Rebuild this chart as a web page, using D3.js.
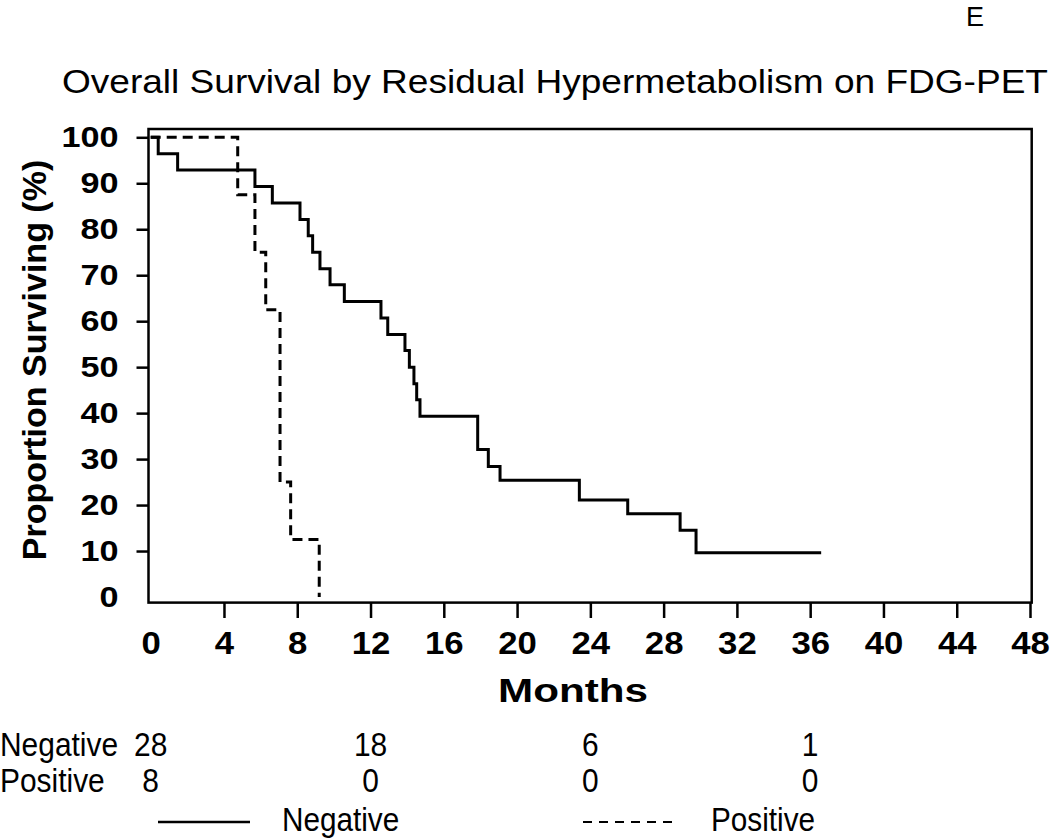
<!DOCTYPE html>
<html lang="en">
<head>
<meta charset="utf-8">
<script src="https://d3js.org/d3.v7.min.js"></script>
<style>
  body { margin: 0; background: #fff; }
  svg { display: block; font-family: "Liberation Sans", Arial, Helvetica, sans-serif; }
  .axis path { display: none; }
  .axis line { stroke: #000; stroke-width: 2.5; }
  .axis text { fill: #000; font-weight: bold; }
</style>
</head>
<body>
<svg id="chart" width="1050" height="839"></svg>
<script>
// survival steps (months, % surviving)
var negTimes = [0, 0.41, 1.47, 5.69, 6.64, 8.15, 8.6, 8.84, 9.24, 9.79, 10.57, 12.57, 12.94, 13.88, 14.12, 14.37, 14.52, 14.7, 17.85, 18.43, 19.07, 23.4, 26.04, 28.9, 29.77, 36.6];
var negSurv  = [100, 96.4, 92.9, 89.3, 85.7, 82.1, 78.6, 75.0, 71.4, 67.9, 64.3, 60.7, 57.1, 53.6, 50.0, 46.4, 42.9, 39.3, 32.1, 28.4, 25.4, 21.1, 18.1, 14.5, 9.6, 9.6];
var posTimes = [0, 4.75, 5.69, 6.28, 7.06, 7.64, 9.2];
var posSurv  = [100, 87.5, 75, 62.5, 25, 12.5, 0];

// numbers at risk
var groups = ['Negative', 'Positive'];
var riskTimes = [0, 12, 24, 36];
var negRisk = [28, 18, 6, 1];
var posRisk = [8, 0, 0, 0];

var xTicks = [0, 4, 8, 12, 16, 20, 24, 28, 32, 36, 40, 44, 48];
var yTicks = [0, 10, 20, 30, 40, 50, 60, 70, 80, 90, 100];

var svg = d3.select('#chart');

var x = d3.scaleLinear().domain([0, 48]).range([150.7, 1030]);
var y = d3.scaleLinear().domain([0, 100]).range([597, 137.3]);

// widen or squeeze text horizontally (the original type is not plain Helvetica)
function stretch(sel, k) {
  sel.each(function() {
    var w = this.getComputedTextLength();
    d3.select(this).attr('textLength', w * k).attr('lengthAdjust', 'spacingAndGlyphs');
  });
}

// frame
svg.append('rect')
  .attr('x', 148.5).attr('y', 129)
  .attr('width', 1031.7 - 148.5).attr('height', 602.6 - 129)
  .attr('fill', 'none').attr('stroke', '#000').attr('stroke-width', 2.5);

// x axis
var gx = svg.append('g')
  .attr('class', 'axis')
  .attr('transform', 'translate(0,603)')
  .style('font-size', '31px')
  .call(d3.axisBottom(x).tickValues(xTicks).tickSize(15).tickPadding(14));
gx.selectAll('.tick').filter(function(d) { return d === 0; }).select('line').remove();
stretch(gx.selectAll('text'), 1.12);

// y axis
var gy = svg.append('g')
  .attr('class', 'axis')
  .attr('transform', 'translate(148.5,0)')
  .style('font-size', '30px')
  .call(d3.axisLeft(y).tickValues(yTicks).tickSize(12).tickPadding(18));
gy.selectAll('.tick').filter(function(d) { return d === 0; }).select('line').remove();
stretch(gy.selectAll('text'), 1.14);

// curves
var line = d3.line()
  .x(function(d) { return x(d[0]); })
  .y(function(d) { return y(d[1]); })
  .curve(d3.curveStepAfter);

svg.append('path')
  .datum(d3.zip(negTimes, negSurv))
  .attr('d', line)
  .attr('fill', 'none').attr('stroke', '#000').attr('stroke-width', 3);

svg.append('path')
  .datum(d3.zip(posTimes, posSurv))
  .attr('d', line)
  .attr('fill', 'none').attr('stroke', '#000').attr('stroke-width', 3)
  .attr('stroke-dasharray', '10,6');

// titles
svg.append('text')
  .attr('x', 975).attr('y', 26)
  .attr('text-anchor', 'middle')
  .style('font-size', '27px')
  .text('E');

svg.append('text')
  .attr('x', 555).attr('y', 93)
  .attr('text-anchor', 'middle')
  .style('font-size', '34px')
  .attr('textLength', 986).attr('lengthAdjust', 'spacingAndGlyphs')
  .text('Overall Survival by Residual Hypermetabolism on FDG-PET');

svg.append('text')
  .attr('x', 573).attr('y', 702)
  .attr('text-anchor', 'middle')
  .style('font-size', '34px').style('font-weight', 'bold')
  .attr('textLength', 150).attr('lengthAdjust', 'spacingAndGlyphs')
  .text('Months');

svg.append('text')
  .attr('transform', 'translate(46,360) rotate(-90)')
  .attr('text-anchor', 'middle')
  .style('font-size', '34px').style('font-weight', 'bold')
  .text('Proportion Surviving (%)');

// numbers at risk table
var rowY = [756, 792];
var riskRows = [negRisk, posRisk];
groups.forEach(function(g, i) {
  var lab = svg.append('text')
    .attr('x', 0).attr('y', rowY[i])
    .style('font-size', '34px')
    .text(g);
  stretch(lab, 0.88);
  var nums = svg.selectAll(null)
    .data(d3.zip(riskTimes, riskRows[i]))
    .enter().append('text')
    .attr('x', function(d) { return x(d[0]); })
    .attr('y', rowY[i])
    .attr('text-anchor', 'middle')
    .style('font-size', '34px')
    .text(function(d) { return d[1]; });
  stretch(nums, 0.88);
});

// legend
var legend = svg.append('g');
legend.append('line')
  .attr('x1', 158).attr('x2', 250).attr('y1', 822).attr('y2', 822)
  .attr('stroke', '#000').attr('stroke-width', 2.5);
var l1 = legend.append('text')
  .attr('x', 282).attr('y', 831)
  .style('font-size', '33px')
  .text(groups[0]);
legend.append('line')
  .attr('x1', 583).attr('x2', 676).attr('y1', 822).attr('y2', 822)
  .attr('stroke', '#000').attr('stroke-width', 2)
  .attr('stroke-dasharray', '9,7');
var l2 = legend.append('text')
  .attr('x', 711).attr('y', 831)
  .style('font-size', '33px')
  .text(groups[1]);
stretch(l1, 0.9);
stretch(l2, 0.9);
</script>
</body>
</html>
